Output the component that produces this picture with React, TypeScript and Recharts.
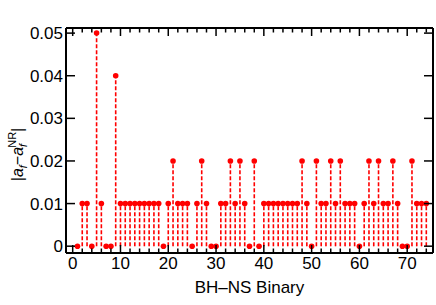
import React from 'react';
import { ComposedChart, Scatter, ErrorBar, XAxis, YAxis } from 'recharts';

// binary index 1..74 and the spin difference for each
const binaries = Array.from({ length: 74 }, (_, i) => i + 1);
const spinDiff = [
    0, 0.01, 0.01, 0, 0.05, 0.01, 0, 0, 0.04, 0.01,
    0.01, 0.01, 0.01, 0.01, 0.01, 0.01, 0.01, 0.01, 0, 0.01,
    0.02, 0.01, 0.01, 0.01, 0, 0.01, 0.02, 0.01, 0, 0,
    0.01, 0.01, 0.02, 0.01, 0.02, 0.01, 0, 0.02, 0, 0.01,
    0.01, 0.01, 0.01, 0.01, 0.01, 0.01, 0.01, 0.02, 0.01, 0,
    0.02, 0.01, 0.01, 0.02, 0.01, 0.02, 0.01, 0.01, 0.01, 0,
    0.01, 0.02, 0.01, 0.02, 0.01, 0.01, 0.02, 0.01, 0, 0,
    0.02, 0.01, 0.01, 0.01,
];
const xTicks = Array.from({ length: 38 }, (_, i) => i * 2);
const yTicks = [0, 0.01, 0.02, 0.03, 0.04, 0.05];

const FONT = 'Liberation Sans, Arial, Helvetica, sans-serif';
const RED = '#ff0000';
const TS = 6; // recharts tick size, ticks are drawn by hand from the axis line

const rows = binaries.map((b, i) => ({ x: b, y: spinDiff[i], err: [spinDiff[i], 0] }));

const BottomTick = (props: any) => {
    const { x, y, payload } = props;
    const major = payload.value % 10 === 0;
    const y0 = y - TS;
    return (
        <g>
            <line x1={x} x2={x} y1={y0} y2={y0 - (major ? 8 : 4.5)} stroke="#000" strokeWidth={1.5} />
            {major && (
                <text x={x} y={y0 + 16} textAnchor="middle" fontSize={17} fontFamily={FONT} fill="#000">
                    {payload.value}
                </text>
            )}
        </g>
    );
};

const TopTick = (props: any) => {
    const { x, y, payload } = props;
    const major = payload.value % 10 === 0;
    const y0 = y + TS;
    return <line x1={x} x2={x} y1={y0} y2={y0 + (major ? 8 : 4.5)} stroke="#000" strokeWidth={1.5} />;
};

const LeftTick = (props: any) => {
    const { x, y, payload } = props;
    const x0 = x + TS;
    const v = payload.value;
    return (
        <g>
            <line x1={x0} x2={x0 + 9} y1={y} y2={y} stroke="#000" strokeWidth={1.5} />
            <text x={x0 - 3} y={y} dy="0.36em" textAnchor="end" fontSize={17} fontFamily={FONT} fill="#000">
                {v === 0 ? '0' : v.toFixed(2)}
            </text>
        </g>
    );
};

const RightTick = (props: any) => {
    const { x, y } = props;
    const x0 = x - TS;
    return <line x1={x0} x2={x0 - 9} y1={y} y2={y} stroke="#000" strokeWidth={1.5} />;
};

const YTitle = (props: any) => {
    const vb = props.viewBox || { x: 0, y: 0, width: 0, height: 0 };
    const cx = vb.x + 17;
    const cy = vb.y + vb.height / 2 + 14;
    return (
        <text
            x={cx}
            y={cy}
            transform={`rotate(-90, ${cx}, ${cy})`}
            textAnchor="middle"
            dy="0.36em"
            fontSize={16}
            fontFamily={FONT}
            fill="#000"
        >
            <tspan>|</tspan>
            <tspan fontStyle="italic">a</tspan>
            <tspan fontStyle="italic" fontSize={11} dy={4}>f</tspan>
            <tspan dy={-4}>−</tspan>
            <tspan fontStyle="italic">a</tspan>
            <tspan fontStyle="italic" fontSize={11} dy={4}>f</tspan>
            <tspan fontSize={11} dx={-4} dy={-11}>NR</tspan>
            <tspan dy={7}>|</tspan>
        </text>
    );
};

const Dot = (props: any) => <circle cx={props.cx} cy={props.cy} r={2.8} fill={RED} />;
const NoDot = () => <g />;

export default function App() {
    return (
        <div style={{ position: 'absolute', left: 0, top: 0, background: '#fff' }}>
            <ComposedChart width={436} height={305} data={rows} margin={{ top: 27, right: 2, left: 0, bottom: 0 }}>
                <XAxis
                    xAxisId="top"
                    orientation="top"
                    dataKey="x"
                    type="number"
                    domain={[-1.4, 75.4]}
                    ticks={xTicks}
                    interval={0}
                    height={1}
                    tickSize={TS}
                    tickMargin={0}
                    tickLine={false}
                    tick={<TopTick />}
                    axisLine={{ stroke: '#000', strokeWidth: 2 }}
                />
                <XAxis
                    xAxisId="b"
                    dataKey="x"
                    type="number"
                    domain={[-1.4, 75.4]}
                    ticks={xTicks}
                    interval={0}
                    height={52}
                    tickSize={TS}
                    tickMargin={0}
                    tickLine={false}
                    tick={<BottomTick />}
                    axisLine={{ stroke: '#000', strokeWidth: 2 }}
                    label={{ value: 'BH–NS Binary', position: 'insideBottom', offset: 12, fontSize: 17, fontFamily: FONT, fill: '#000' }}
                />
                <YAxis
                    yAxisId="l"
                    type="number"
                    domain={[-0.0016, 0.0512]}
                    ticks={yTicks}
                    interval={0}
                    width={66}
                    tickSize={TS}
                    tickMargin={0}
                    tickLine={false}
                    tick={<LeftTick />}
                    axisLine={{ stroke: '#000', strokeWidth: 2 }}
                    label={<YTitle />}
                />
                <YAxis
                    yAxisId="r"
                    orientation="right"
                    type="number"
                    domain={[-0.0016, 0.0512]}
                    ticks={yTicks}
                    interval={0}
                    width={1}
                    tickSize={TS}
                    tickMargin={0}
                    tickLine={false}
                    tick={<RightTick />}
                    axisLine={{ stroke: '#000', strokeWidth: 2 }}
                />
                {/* hidden copy so the top and right frame axes get drawn */}
                <Scatter data={rows} dataKey="y" xAxisId="top" yAxisId="r" shape={NoDot} isAnimationActive={false} />
                <Scatter data={rows} dataKey="y" xAxisId="b" yAxisId="l" fill={RED} shape={Dot} isAnimationActive={false}>
                    <ErrorBar
                        dataKey="err"
                        direction="y"
                        width={0}
                        stroke={RED}
                        strokeWidth={1.6}
                        strokeDasharray="4 2"
                        isAnimationActive={false}
                    />
                </Scatter>
            </ComposedChart>
        </div>
    );
}
